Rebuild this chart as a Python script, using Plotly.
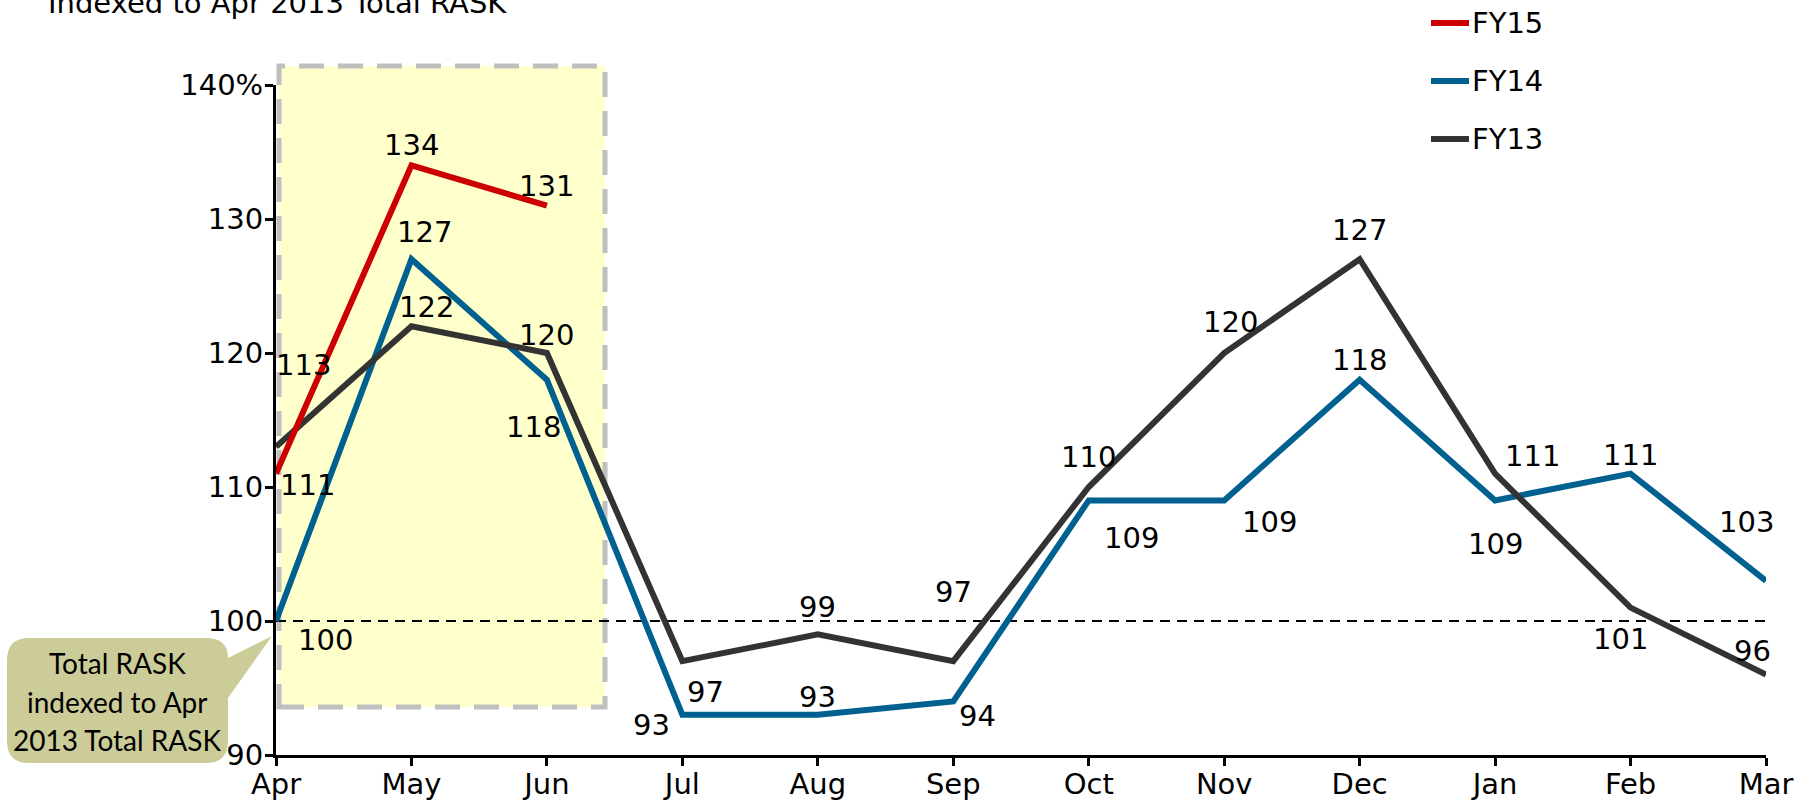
import plotly.graph_objects as go

# ---- data ----
months = ["Apr", "May", "Jun", "Jul", "Aug", "Sep", "Oct", "Nov", "Dec", "Jan", "Feb", "Mar"]
fy15 = [111, 134, 131]
fy14 = [100, 127, 118, 93, 93, 94, 109, 109, 118, 109, 111, 103]
fy13 = [113, 122, 120, 97, 99, 97, 110, 120, 127, 111, 101, 96]
y_ticks = [90, 100, 110, 120, 130, 140]
y_tick_text = ["90", "100", "110", "120", "130", "140%"]
series_names = ["FY15", "FY14", "FY13"]
series_colors = ["#CC0000", "#00608F", "#333333"]

# label offsets (pixels right, pixels down) from each point
off15 = [(31, 11), (0, -20), (0, -20)]
off14 = [(49, 19), (13, -27), (-13, 47), (-31, 10), (0, -18), (24, 15),
         (43, 38), (45, 22), (0, -20), (0, 44), (0, -19), (-20, -59)]
off13 = [(27, -82), (15, -19), (0, -18), (23, 31), (0, -27), (0, -69),
         (0, -30), (6, -31), (0, -29), (37, -18), (-10, 31), (-14, -24)]

W, H = 1796, 804
ML, MR, MT, MB = 276, 30, 85, 49
PW, PH = W - ML - MR, H - MT - MB


def px(x):
    return (x - ML) / PW


def py(y):
    return (H - MB - y) / PH


FONT = "DejaVu Sans, Verdana, sans-serif"
fig = go.Figure()

xs = list(range(len(months)))
for name, vals, color in [("FY14", fy14, series_colors[1]),
                          ("FY13", fy13, series_colors[2]),
                          ("FY15", fy15, series_colors[0])]:
    fig.add_trace(go.Scatter(x=xs[:len(vals)], y=vals, mode="lines", name=name,
                             line=dict(color=color, width=6), showlegend=False,
                             hoverinfo="skip"))

annotations = []
for vals, offs in [(fy15, off15), (fy14, off14), (fy13, off13)]:
    for i, (v, (dx, dy)) in enumerate(zip(vals, offs)):
        annotations.append(dict(x=i, y=v, xref="x", yref="y", text=str(v),
                                showarrow=False, xshift=dx, yshift=-dy,
                                font=dict(family=FONT, size=29, color="black")))

# title text at the top left
annotations.append(dict(x=px(46), y=py(3), xref="paper", yref="paper",
                        text="Indexed to Apr 2013 Total RASK", showarrow=False,
                        xanchor="left", yanchor="middle",
                        font=dict(family=FONT, size=29, color="black")))

# legend
shapes = []
for k, (name, color) in enumerate(zip(series_names, series_colors)):
    yy = 23 + 58 * k
    shapes.append(dict(type="line", xref="paper", yref="paper",
                       x0=px(1431), x1=px(1469), y0=py(yy), y1=py(yy),
                       line=dict(color=color, width=6)))
    annotations.append(dict(x=px(1470), y=py(yy), xref="paper", yref="paper",
                            text=name, showarrow=False, xanchor="left",
                            yanchor="middle",
                            font=dict(family=FONT, size=29, color="black")))

# highlighted first quarter
shapes.append(dict(type="rect", xref="paper", yref="paper", layer="below",
                   x0=px(279), x1=px(605), y0=py(707), y1=py(66),
                   fillcolor="#FFFFCC",
                   line=dict(color="#BFBFBF", width=5, dash="25px,14px")))

# reference line at 100
shapes.append(dict(type="line", xref="x", yref="y", layer="below",
                   x0=0, x1=11, y0=100, y1=100,
                   line=dict(color="black", width=2, dash="10px,7px")))

# callout bubble
r = 22
bx0, bx1, by0, by1 = 7, 228, 638, 763
path = f"M {px(bx0 + r)},{py(by0)} L {px(bx1 - r)},{py(by0)} "
path += f"Q {px(bx1)},{py(by0)} {px(bx1)},{py(658)} "
path += f"L {px(272)},{py(636)} L {px(bx1)},{py(698)} "
path += f"L {px(bx1)},{py(by1 - r)} Q {px(bx1)},{py(by1)} {px(bx1 - r)},{py(by1)} "
path += f"L {px(bx0 + r)},{py(by1)} Q {px(bx0)},{py(by1)} {px(bx0)},{py(by1 - r)} "
path += f"L {px(bx0)},{py(by0 + r)} Q {px(bx0)},{py(by0)} {px(bx0 + r)},{py(by0)} Z"
shapes.append(dict(type="path", xref="paper", yref="paper", layer="below",
                   path=path, fillcolor="#CCCC99", line=dict(width=0)))
for line_text, yy in [("Total RASK", 663), ("indexed to Apr", 702),
                      ("2013 Total RASK", 740)]:
    annotations.append(dict(x=px(117), y=py(yy), xref="paper", yref="paper",
                            text=line_text, showarrow=False,
                            xanchor="center", yanchor="middle",
                            font=dict(family="Lato, Open Sans, sans-serif",
                                      size=28, color="black")))

fig.update_layout(
    width=W, height=H,
    margin=dict(l=ML, r=MR, t=MT, b=MB, pad=0),
    paper_bgcolor="white", plot_bgcolor="rgba(0,0,0,0)",
    showlegend=False,
    shapes=shapes, annotations=annotations,
    xaxis=dict(range=[0, 11], tickvals=xs, ticktext=months, showgrid=False,
               zeroline=False, showline=True, linecolor="black", linewidth=3,
               ticks="outside", ticklen=8, tickwidth=3, tickcolor="black",
               automargin=False, ticklabelstandoff=-7,
               tickfont=dict(family=FONT, size=29, color="black")),
    yaxis=dict(range=[90, 140], tickvals=y_ticks, ticktext=y_tick_text,
               showgrid=False, zeroline=False, showline=True,
               linecolor="black", linewidth=3, ticks="outside", ticklen=8,
               tickwidth=3, tickcolor="black", automargin=False,
               ticklabelstandoff=-4,
               tickfont=dict(family=FONT, size=29, color="black")),
)

fig.write_html("out.html")
